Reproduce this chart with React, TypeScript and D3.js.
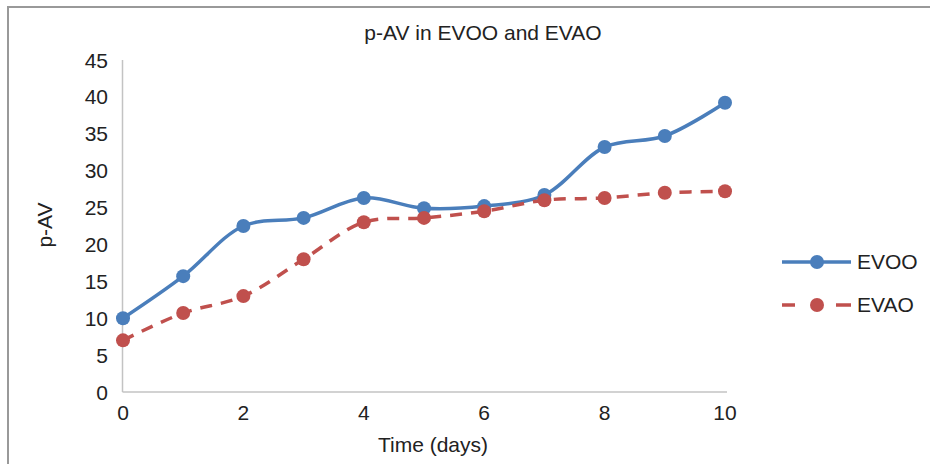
import React from "react";
import * as d3 from "d3";

const days = [0, 1, 2, 3, 4, 5, 6, 7, 8, 9, 10];
const evoo = [10.0, 15.7, 22.5, 23.6, 26.3, 24.9, 25.2, 26.7, 33.2, 34.7, 39.2];
const evao = [7.0, 10.7, 13.0, 18.0, 23.0, 23.6, 24.5, 26.0, 26.3, 27.0, 27.2];
const xTicks = [0, 2, 4, 6, 8, 10];
const yTicks = [0, 5, 10, 15, 20, 25, 30, 35, 40, 45];

const BLUE = "#4a7ebb";
const RED = "#c0504d";
const FONT = "'Liberation Sans', Arial, sans-serif";

export default function App() {
  const width = 930;
  const height = 464;

  // plot area
  const x = d3.scaleLinear().domain([0, 10]).range([123, 725]);
  const y = d3.scaleLinear().domain([0, 45]).range([392, 60]);

  const line = d3
    .line<number>()
    .x((_, i) => x(days[i]))
    .y((d) => y(d))
    .curve(d3.curveCatmullRom);

  const series = [
    { name: "EVOO", values: evoo, color: BLUE, dash: undefined, ly: 262 },
    { name: "EVAO", values: evao, color: RED, dash: "12,9", ly: 305 },
  ];

  return (
    <svg
      width={width}
      height={height}
      style={{ position: "absolute", left: 0, top: 0, background: "#fff" }}
      fontFamily={FONT}
    >
      {/* outer frame (top and left edges only visible) */}
      <line x1={7} y1={7} x2={width} y2={7} stroke="#999" strokeWidth={2} />
      <line x1={8} y1={7} x2={8} y2={height} stroke="#999" strokeWidth={2} />

      <text x={483} y={40} textAnchor="middle" fontSize={21} fill="#222">
        p-AV in EVOO and EVAO
      </text>

      {/* axes */}
      <line x1={x(0) - 0.5} y1={y(45)} x2={x(0) - 0.5} y2={y(0)} stroke="#c3c3c3" strokeWidth={1.5} />
      <line x1={x(0) - 0.5} y1={y(0)} x2={727} y2={y(0)} stroke="#c3c3c3" strokeWidth={1.5} />

      {yTicks.map((t) => (
        <text key={t} x={108} y={y(t) + 7.5} textAnchor="end" fontSize={21} fill="#222">
          {t}
        </text>
      ))}
      {xTicks.map((t) => (
        <text key={t} x={x(t)} y={420} textAnchor="middle" fontSize={21} fill="#222">
          {t}
        </text>
      ))}

      <text x={433} y={452} textAnchor="middle" fontSize={21} fill="#222">
        Time (days)
      </text>
      <text
        transform="translate(52,225) rotate(-90)"
        textAnchor="middle"
        fontSize={21}
        fill="#222"
      >
        p-AV
      </text>

      {/* series */}
      {series.map((s) => (
        <g key={s.name}>
          <path
            d={line(s.values) || ""}
            fill="none"
            stroke={s.color}
            strokeWidth={3.5}
            strokeDasharray={s.dash}
          />
          {s.values.map((v, i) => (
            <circle key={i} cx={x(days[i])} cy={y(v)} r={7} fill={s.color} />
          ))}
        </g>
      ))}

      {/* legend */}
      {series.map((s) => (
        <g key={s.name}>
          <line
            x1={782}
            y1={s.ly}
            x2={851}
            y2={s.ly}
            stroke={s.color}
            strokeWidth={3.5}
            strokeDasharray={s.dash ? "13,41,15" : undefined}
          />
          <circle cx={817} cy={s.ly} r={7} fill={s.color} />
          <text x={857} y={s.ly + 7} fontSize={21} fill="#222">
            {s.name}
          </text>
        </g>
      ))}
    </svg>
  );
}
